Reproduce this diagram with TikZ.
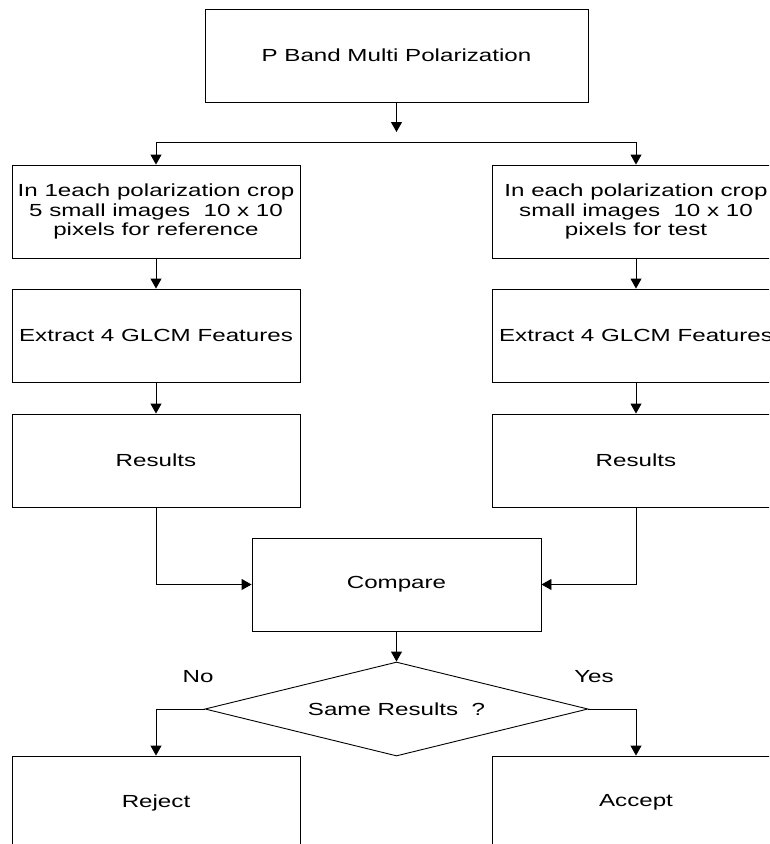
\documentclass[tikz,border=0pt]{standalone}
\usepackage{fontspec}
\setmainfont[FakeStretch=1.38]{Liberation Sans}
\usetikzlibrary{arrows.meta,shapes.geometric}

\tikzset{
  stepbox/.style={draw, line width=0.9pt, minimum width=288pt, minimum height=93pt,
    inner sep=0pt, align=center, font=\fontsize{17.5}{19.8}\selectfont},
  arr/.style={draw, line width=0.9pt, -{Triangle[length=10pt,width=11pt]}},
  lbl/.style={font=\fontsize{17.5}{19.8}\selectfont, inner sep=0pt}
}

\begin{document}
\begin{tikzpicture}[x=1pt,y=-1pt]
  \useasboundingbox (0,0) rectangle (769,844);
  \clip (0,0) rectangle (769,844);

  % top
  \node[stepbox, minimum width=383pt] (band) at (396.5,55.5) {P Band Multi Polarization};

  % reference side
  \node[stepbox] (cropRef) at (156,211.5) {In 1each polarization crop\\5 small images\ \ 10 x 10\\pixels for reference};
  \node[stepbox] (glcmRef) at (156,335.5) {Extract 4 GLCM Features};
  \node[stepbox] (resRef) at (156,460.5) {Results};

  % test side
  \node[stepbox] (cropTest) at (636,211.5) {In each polarization crop\\small images\ \ 10 x 10\\pixels for test};
  \node[stepbox] (glcmTest) at (636,335.5) {Extract 4 GLCM Features};
  \node[stepbox] (resTest) at (636,460.5) {Results};

  % compare and decision
  \node[stepbox, minimum width=289pt] (cmp) at (396.5,584.5) {Compare};
  \node[draw, line width=0.9pt, diamond, aspect=4.07, minimum width=383pt, minimum height=94pt,
    inner sep=0pt, font=\fontsize{17.5}{19.8}\selectfont] (same) at (396.5,709) {Same Results\ \ ?};
  \node[lbl] (no) at (198,677) {No};
  \node[lbl] (yes) at (594,677) {Yes};

  \node[stepbox] (rej) at (156,802.5) {Reject};
  \node[stepbox] (acc) at (636,802.5) {Accept};

  % split below top box
  \coordinate (splitTip) at (396.5,132);
  \coordinate (splitL) at (156,142);
  \coordinate (splitR) at (636,142);
  \draw[arr] (band.south) -- (splitTip);
  \draw[line width=0.9pt] (splitL) -- (splitR);
  \draw[arr] (splitL) -- (cropRef.north);
  \draw[arr] (splitR) -- (cropTest.north);

  \draw[arr] (cropRef.south) -- (glcmRef.north);
  \draw[arr] (glcmRef.south) -- (resRef.north);
  \draw[arr] (cropTest.south) -- (glcmTest.north);
  \draw[arr] (glcmTest.south) -- (resTest.north);

  \draw[arr] (resRef.south) |- (cmp.west);
  \draw[arr] (resTest.south) |- (cmp.east);
  \draw[arr] (cmp.south) -- (same.north);

  \draw[arr] (same.west) -| (rej.north);
  \draw[arr] (same.east) -| (acc.north);
\end{tikzpicture}
\end{document}
